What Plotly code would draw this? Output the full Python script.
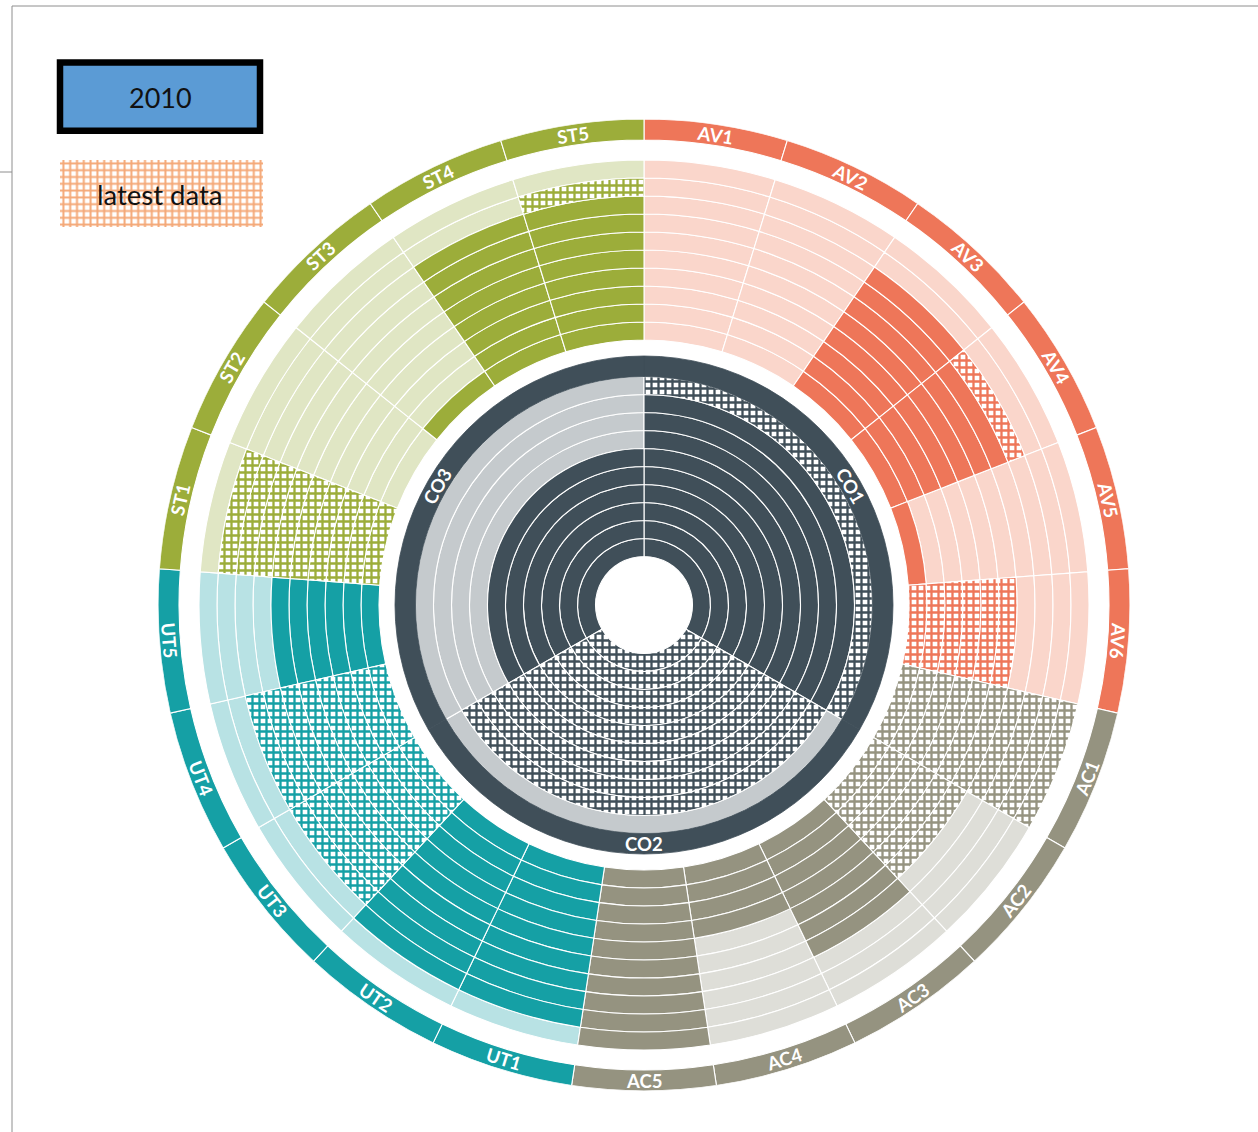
import math
import plotly.graph_objects as go

W, H = 1258, 1132

# ---------------- data ----------------
segments = ["AV1", "AV2", "AV3", "AV4", "AV5", "AV6",
            "AC1", "AC2", "AC3", "AC4", "AC5",
            "UT1", "UT2", "UT3", "UT4", "UT5",
            "ST1", "ST2", "ST3", "ST4", "ST5"]
segment_group = ["AV"] * 6 + ["AC"] * 5 + ["UT"] * 5 + ["ST"] * 5
value_2010 = [0, 0, 8, 7, 1, 0,
              0, 0, 7, 4, 10,
              9, 9, 0, 0, 6,
              0, 0, 1, 8, 8]
value_latest = [0, 0, 8, 8, 1, 6,
                10, 6, 7, 4, 10,
                9, 9, 8, 8, 6,
                9, 0, 1, 8, 9]

core_segments = ["CO1", "CO2", "CO3"]
core_group = ["CO"] * 3
core_2010 = [9, 0, 6]
core_latest = [10, 9, 6]

legend_labels = ["2010", "latest data"]
N_RINGS = 10

# ---------------- style ----------------
palette = {
    "AV": ("#EE7659", "#FAD6CB"),
    "AC": ("#959380", "#DEDED8"),
    "UT": ("#15A0A5", "#B8E2E4"),
    "ST": ("#9CAD3A", "#E0E6C4"),
    "CO": ("#404F59", "#C5CACD"),
}
CX, CY = 644.0, 605.0
R_MAX = 486
HOLE = 48.5
RING = 18
CORE_BAND = (228.5, 249.0)
OUTER_BASE = 265.0
LABEL_BAND = (465.0, 486.0)
LABEL_FONT = dict(family="Lato, Open Sans, sans-serif", size=18.5, color="white", weight="bold")
HATCH = dict(shape="+", bgcolor="white", size=7, solidity=0.55, fillmode="replace")

fig = go.Figure()


def add_cells(names, groups, v2010, vlatest, r0, sector_w):
    buckets = {}
    for i, (g, a, b) in enumerate(zip(groups, v2010, vlatest)):
        theta = (i + 0.5) * sector_w
        for k in range(N_RINGS):
            status = "dark" if k < a else ("hatch" if k < b else "light")
            d = buckets.setdefault((g, status), dict(theta=[], base=[], r=[], width=[], text=[]))
            d["theta"].append(theta)
            d["base"].append(r0 + k * RING)
            d["r"].append(RING)
            d["width"].append(sector_w)
            d["text"].append(f"{names[i]} ring {k + 1}")
    order = {"light": 0, "dark": 1, "hatch": 2}
    for (g, status), d in sorted(buckets.items(), key=lambda kv: order[kv[0][1]]):
        dark, light = palette[g]
        line = dict(color="white", width=1.1)
        if status == "dark":
            marker = dict(color=dark, line=line)
        elif status == "light":
            marker = dict(color=light, line=line)
        else:
            marker = dict(color=dark, line=line, pattern=dict(HATCH, fgcolor=dark))
        fig.add_trace(go.Barpolar(theta=d["theta"], base=d["base"], r=d["r"], width=d["width"],
                                  marker=marker, hovertext=d["text"], hoverinfo="text",
                                  showlegend=False))


def add_band(names, groups, band, sector_w, line_col=None):
    theta = [(i + 0.5) * sector_w for i in range(len(names))]
    cols = [palette[g][0] for g in groups]
    fig.add_trace(go.Barpolar(
        theta=theta, base=[band[0]] * len(names), r=[band[1] - band[0]] * len(names),
        width=[sector_w] * len(names),
        marker=dict(color=cols, line=dict(color=line_col if line_col else "white",
                                          width=1.1 if line_col is None else 0.8)),
        hovertext=names, hoverinfo="text", showlegend=False))


def polar_to_paper(theta_deg, r):
    t = math.radians(theta_deg)
    return (CX + r * math.sin(t)) / W, 1 - (CY - r * math.cos(t)) / H


def tangential(theta):
    a = theta % 360
    if a <= 100:
        return a
    if a >= 270:
        return a - 360
    return a - 180


annotations = []


def add_labels(names, band, sector_w):
    rmid = (band[0] + band[1]) / 2
    for i, nm in enumerate(names):
        th = (i + 0.5) * sector_w
        x, y = polar_to_paper(th, rmid)
        annotations.append(dict(x=x, y=y, xref="paper", yref="paper", text=nm, showarrow=False,
                                xanchor="center", yanchor="middle", textangle=tangential(th),
                                font=LABEL_FONT))


outer_w = 360 / len(segments)
core_w = 360 / len(core_segments)

add_cells(core_segments, core_group, core_2010, core_latest, HOLE, core_w)
add_band(core_segments, core_group, CORE_BAND, core_w, line_col=palette["CO"][0])
add_cells(segments, segment_group, value_2010, value_latest, OUTER_BASE, outer_w)
add_band(segments, segment_group, LABEL_BAND, outer_w)
add_labels(core_segments, CORE_BAND, core_w)
add_labels(segments, LABEL_BAND, outer_w)

# legend item "latest data" (hatched swatch)
fig.add_trace(go.Bar(x=[0.5], y=[1], width=[1], base=[0], xaxis="x", yaxis="y",
                     marker=dict(color="#F4A877", line=dict(width=0),
                                 pattern=dict(shape="+", fgcolor="#F4A877", bgcolor="white",
                                              size=6.8, solidity=0.5, fillmode="replace")),
                     name=legend_labels[1], hoverinfo="skip", showlegend=False))

annotations.append(dict(x=160 / W, y=1 - 98 / H, xref="paper", yref="paper", text=legend_labels[0],
                        showarrow=False, xanchor="center", yanchor="middle",
                        font=dict(family="Lato, Open Sans, sans-serif", size=27, color="#111111")))
annotations.append(dict(x=160 / W, y=1 - 194 / H, xref="paper", yref="paper", text=legend_labels[1],
                        showarrow=False, xanchor="center", yanchor="middle",
                        font=dict(family="Lato, Open Sans, sans-serif", size=27.5, color="#111111")))

shapes = [
    dict(type="rect", xref="paper", yref="paper", x0=60 / W, x1=260 / W, y0=1 - 130.8 / H, y1=1 - 62.6 / H,
         fillcolor="#5B9BD5", line=dict(color="black", width=6.5), layer="below"),
    dict(type="line", xref="paper", yref="paper", x0=12 / W, x1=1, y0=1 - 6 / H, y1=1 - 6 / H,
         line=dict(color="#8E8E8E", width=1)),
    dict(type="line", xref="paper", yref="paper", x0=12 / W, x1=12 / W, y0=1 - 6 / H, y1=0,
         line=dict(color="#8E8E8E", width=1)),
    dict(type="line", xref="paper", yref="paper", x0=0, x1=12 / W, y0=1 - 172 / H, y1=1 - 172 / H,
         line=dict(color="#8E8E8E", width=1)),
]

fig.update_layout(
    width=W, height=H, margin=dict(l=0, r=0, t=0, b=0),
    paper_bgcolor="white", plot_bgcolor="white", showlegend=False,
    polar=dict(
        domain=dict(x=[(CX - R_MAX) / W, (CX + R_MAX) / W], y=[1 - (CY + R_MAX) / H, 1 - (CY - R_MAX) / H]),
        bgcolor="white", hole=0, barmode="overlay", bargap=0,
        radialaxis=dict(range=[0, R_MAX], visible=False, showgrid=False, showline=False,
                        showticklabels=False, ticks=""),
        angularaxis=dict(visible=False, rotation=90, direction="clockwise", showgrid=False,
                         showline=False, showticklabels=False, ticks=""),
    ),
    xaxis=dict(domain=[60 / W, 263 / W], range=[0, 1], visible=False, fixedrange=True),
    yaxis=dict(domain=[1 - 227 / H, 1 - 160 / H], range=[0, 1], visible=False, fixedrange=True),
    shapes=shapes,
    annotations=annotations,
)

fig.write_html("out.html", config=dict(displayModeBar=False),
               post_script="document.body.style.margin='0px';")
